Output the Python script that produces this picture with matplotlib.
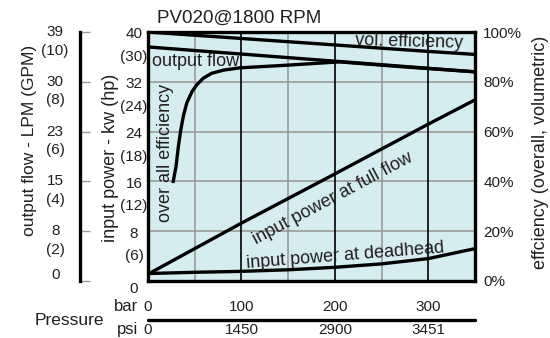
import matplotlib.pyplot as plt
from matplotlib import transforms

plt.rcParams['font.family'] = ['Liberation Sans', 'DejaVu Sans']
plt.rcParams['text.color'] = '#231f20'

# pressure axis
bar_ticks = [0, 100, 200, 300]
psi_labels = ['0', '1450', '2900', '3451']
bar_max = 350

# input power axis (kW, hp in brackets)
kw_ticks = [0, 8, 16, 24, 32, 40]
hp_labels = ['', '(6)', '(12)', '(18)', '(24)', '(30)']

# output flow axis (LPM, GPM in brackets)
gpm_ticks = [0, 2, 4, 6, 8, 10]
lpm_labels = ['0', '8', '15', '23', '30', '39']

eff_ticks = [0, 20, 40, 60, 80, 100]

# curves
vol_p = [0, 100, 200, 300, 350]
vol_eff = [100, 97.4, 94.8, 92.2, 91.0]

flow_p = [0, 350]
flow_gpm = [9.4, 8.4]

overall_p = [27, 30, 32.5, 35, 38, 41.5, 47, 52, 59, 68, 81, 98, 150, 205, 270, 350]
overall_eff = [40, 46, 54, 60.5, 66.5, 71.5, 76, 78.7, 81.4, 83.4, 84.7, 85.6, 86.7, 88.0, 86.1, 84.0]

full_p = [0, 100, 200, 300, 350]
full_kw = [1.1, 9.3, 17.2, 25.2, 29.1]

dead_p = [0, 50, 100, 150, 200, 250, 300, 350]
dead_kw = [1.2, 1.4, 1.55, 1.8, 2.2, 2.75, 3.6, 5.2]

grey = '#9a9a9a'
lw_curve = 2.4
fs_tick = 11
fs_lab = 13

fig = plt.figure(figsize=(5.5, 3.38), dpi=100)
ax = fig.add_axes([148 / 550, 57 / 338, 327 / 550, 249 / 338])
ax.set_xlim(0, bar_max)
ax.set_ylim(0, 40)
ax.set_facecolor('#d5ecf1')
ax.set_xticks([])
ax.set_yticks([])
for s in ax.spines.values():
    s.set_linewidth(2.4)

# grid
for v in [50, 150, 250]:
    ax.axvline(v, color=grey, lw=1.2, zorder=1)
for v in kw_ticks[1:-1]:
    ax.axhline(v, color=grey, lw=1.2, zorder=1)
for v in bar_ticks[1:]:
    ax.axvline(v, color='k', lw=1.2, zorder=1.5)

# efficiency axis (right)
ax_e = ax.twinx()
ax_e.set_ylim(0, 100)
ax_e.set_yticks(eff_ticks)
ax_e.set_yticklabels([f'{v}%' for v in eff_ticks])
ax_e.tick_params(axis='y', length=0, pad=6, labelsize=fs_tick, labelcolor='#231f20')
for s in ax_e.spines.values():
    s.set_visible(False)

# flow axis (outer left)
ax_f = ax.twinx()
ax_f.set_ylim(0, 10)
for k in ['right', 'top', 'bottom']:
    ax_f.spines[k].set_visible(False)
ax_f.spines['left'].set_position(('axes', -0.208))
ax_f.spines['left'].set_linewidth(2.4)
ax_f.yaxis.set_ticks_position('left')
ax_f.set_yticks(gpm_ticks)
ax_f.tick_params(axis='y', direction='in', length=7, width=1, color=grey,
                 labelleft=False, labelright=False)

# curves
ax_e.plot(vol_p, vol_eff, color='k', lw=lw_curve)
ax_e.plot(overall_p, overall_eff, color='k', lw=lw_curve)
ax_f.plot(flow_p, flow_gpm, color='k', lw=lw_curve)
ax.plot(full_p, full_kw, color='k', lw=lw_curve, zorder=3)
ax.plot(dead_p, dead_kw, color='k', lw=lw_curve, zorder=3)

# curve labels
ax_e.text(51, 88, 'output flow', ha='center', va='center', fontsize=fs_lab)
ax_e.text(280, 96, 'vol. efficiency', ha='center', va='center', fontsize=fs_lab, rotation=-1.5)
ax_e.text(18.2, 51.4, 'over all efficiency', ha='center', va='center', fontsize=fs_lab, rotation=90)
ax.text(198, 13.3, 'input power at full flow', ha='center', va='center', fontsize=fs_lab,
        rotation=28, rotation_mode='anchor')
ax.text(211, 4.0, 'input power at deadhead', ha='center', va='center', fontsize=fs_lab,
        rotation=4.5, rotation_mode='anchor')

# kW / hp labels
ty = ax.get_yaxis_transform()
for v, hp in zip(kw_ticks, hp_labels):
    if v == 0:
        ax.text(-0.043, -1.3, '0', transform=ty, ha='center', va='center', fontsize=fs_tick,
                clip_on=False)
        continue
    ax.text(-0.043, v - 0.4, str(v), transform=ty, ha='center', va='center', fontsize=fs_tick)
    ax.text(-0.043, v - 4.0, hp, transform=ty, ha='center', va='center', fontsize=fs_tick)

# LPM / GPM labels
tf = ax_f.get_yaxis_transform()
for v, lpm in zip(gpm_ticks, lpm_labels):
    if v == 0:
        ax_f.text(-0.284, 0.25, lpm, transform=tf, ha='center', va='center', fontsize=fs_tick)
        continue
    ax_f.text(-0.284, v, lpm, transform=tf, ha='center', va='center', fontsize=fs_tick)
    ax_f.text(-0.284, v - 0.75, f'({v})', transform=tf, ha='center', va='center', fontsize=fs_tick)

# pressure scale below
tp = transforms.blended_transform_factory(ax.transData, ax.transAxes)
for b, psi in zip(bar_ticks, psi_labels):
    ax.text(b, -0.104, str(b), transform=tp, ha='center', va='center', fontsize=fs_tick)
    ax.text(b, -0.195, psi, transform=tp, ha='center', va='center', fontsize=fs_tick)
ax.plot([0, bar_max], [-0.156, -0.156], transform=tp, color='k', lw=2.4, clip_on=False,
        solid_capstyle='round')
ax.text(-0.031, -0.104, 'bar', transform=ax.transAxes, ha='right', va='center', fontsize=12)
ax.text(-0.031, -0.195, 'psi', transform=ax.transAxes, ha='right', va='center', fontsize=12)
ax.text(-0.239, -0.158, 'Pressure', transform=ax.transAxes, ha='center', va='center', fontsize=12.5)

# titles and axis labels
ax.text(0.0275, 1.054, 'PV020@1800 RPM', transform=ax.transAxes, ha='left', va='center',
        fontsize=13.5)
ax.text(-0.361, 0.566, 'output flow - LPM (GPM)', transform=ax.transAxes, ha='center',
        va='center', rotation=90, fontsize=12.5)
ax.text(-0.116, 0.494, 'input power - kw (hp)', transform=ax.transAxes, ha='center',
        va='center', rotation=90, fontsize=13)
ax.text(1.199, 0.518, 'effciency (overall, volumetric)', transform=ax.transAxes, ha='center',
        va='center', rotation=90, fontsize=13)

fig.savefig('out.png', dpi=100)
